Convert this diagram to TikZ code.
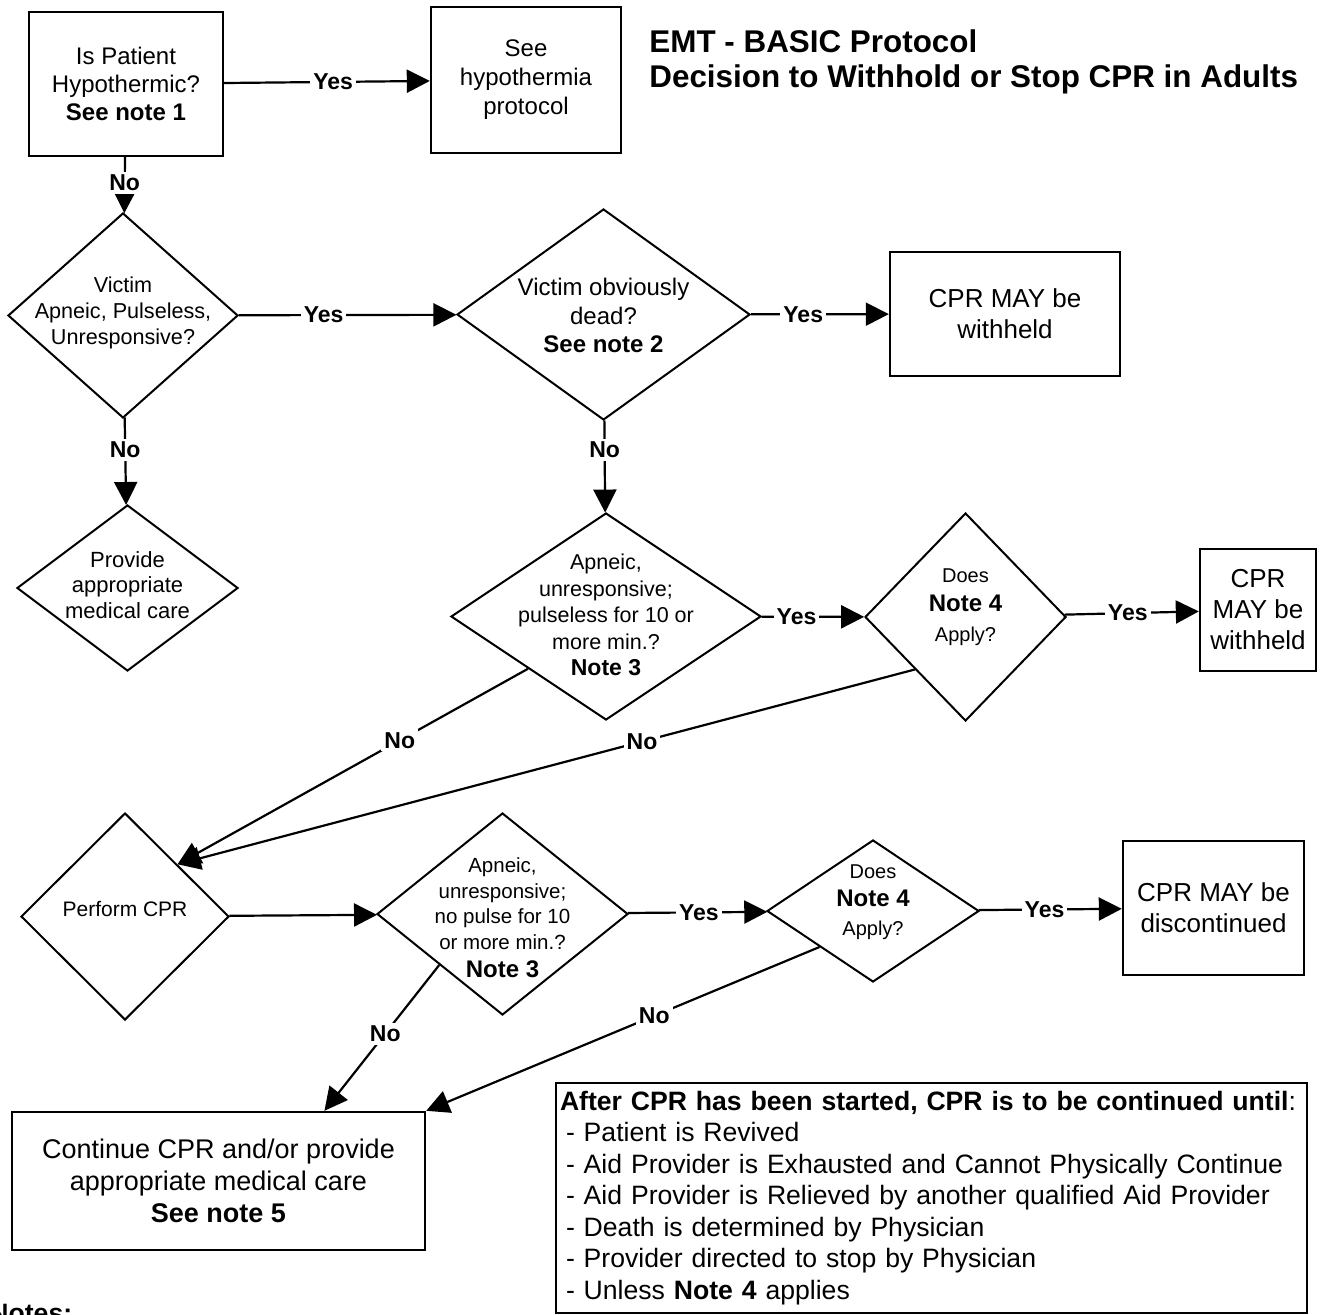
\documentclass[tikz,border=0pt]{standalone}
\usepackage{fontspec}
\setmainfont{Liberation Sans}
\usepackage{tikz}
\usetikzlibrary{shapes.geometric}
\usetikzlibrary{arrows.meta}
\usetikzlibrary{calc}

\tikzset{
  procbox/.style = {draw, line width=1.2pt, align=center, inner sep=0pt},
  decision/.style = {diamond, draw, line width=1pt, inner sep=0pt},
  dtext/.style = {align=center, inner sep=0pt},
  conn/.style = {-{Triangle[length=11.5pt,width=11.5pt]}, line width=1.1pt},
  answer/.style = {fill=white, inner sep=1.5pt, font=\fontsize{11.5pt}{13pt}\selectfont\bfseries}
}

\begin{document}
\begin{tikzpicture}[x=0.5pt, y=-0.5pt]
  \useasboundingbox (0,0) rectangle (1321,1315);
  \clip (0,0) rectangle (1321,1315);

  \node[anchor=west, align=left, inner sep=0pt, font=\fontsize{15.7pt}{17.5pt}\selectfont\bfseries] (title) at (649,62)
    {EMT - BASIC Protocol\\Decision to Withhold or Stop CPR in Adults};

  \node[procbox, minimum width=97pt, minimum height=72pt, font=\fontsize{12pt}{14pt}\selectfont] (hypo) at (126,84)
    {Is Patient\\Hypothermic?\\\textbf{See note 1}};
  \node[procbox, minimum width=95pt, minimum height=73pt, font=\fontsize{12pt}{14.5pt}\selectfont] (hypoprot) at (526,80)
    {See\\hypothermia\\protocol};
  \node[procbox, minimum width=115pt, minimum height=62pt, font=\fontsize{13pt}{15.5pt}\selectfont] (withheld) at (1005,314)
    {CPR MAY be\\withheld};
  \node[procbox, minimum width=58pt, minimum height=61pt, font=\fontsize{13pt}{15.5pt}\selectfont] (withheldB) at (1258,610)
    {CPR\\MAY be\\withheld};
  \node[procbox, minimum width=90.5pt, minimum height=67pt, font=\fontsize{13pt}{15.5pt}\selectfont] (stopped) at (1213.5,908)
    {CPR MAY be\\discontinued};
  \node[procbox, minimum width=206.5pt, minimum height=69pt, font=\fontsize{13.5pt}{16pt}\selectfont] (contin) at (218.5,1181)
    {Continue CPR and/or provide\\appropriate medical care\\\textbf{See note 5}};
  \node[procbox, align=left, text width=371.5pt, inner xsep=2pt, minimum height=115pt, font=\fontsize{13.3pt}{15.75pt}\selectfont] (until) at (931.5,1198)
    {\textbf{After CPR has been started, CPR is to be continued until}:\\
     \hspace*{3pt}- Patient is Revived\\
     \hspace*{3pt}- Aid Provider is Exhausted and Cannot Physically Continue\\
     \hspace*{3pt}- Aid Provider is Relieved by another qualified Aid Provider\\
     \hspace*{3pt}- Death is determined by Physician\\
     \hspace*{3pt}- Provider directed to stop by Physician\\
     \hspace*{3pt}- Unless \textbf{Note 4} applies};

  \node[decision, minimum width=115pt, minimum height=102.5pt,
    label={[dtext, yshift=1.5pt, font=\fontsize{10.8pt}{13pt}\selectfont]center:{Victim\\Apneic, Pulseless,\\Unresponsive?}}] (apneic) at (123,315.5) {};
  \node[decision, minimum width=146.5pt, minimum height=105.5pt,
    label={[dtext, yshift=-0.5pt, font=\fontsize{12pt}{14.25pt}\selectfont]center:{Victim obviously\\dead?\\\textbf{See note 2}}}] (dead) at (603.5,314.5) {};
  \node[decision, minimum width=110.5pt, minimum height=83pt,
    label={[dtext, yshift=1.5pt, font=\fontsize{11pt}{12.75pt}\selectfont]center:{Provide\\appropriate\\medical care}}] (care) at (127.5,588) {};
  \node[decision, minimum width=155pt, minimum height=103.5pt,
    label={[dtext, yshift=0.75pt, font=\fontsize{10.75pt}{13.25pt}\selectfont]center:{Apneic,\\unresponsive;\\pulseless for 10 or\\more min.?\\{\fontsize{11.5pt}{13.25pt}\selectfont\bfseries Note 3}}}] (tenmin) at (606,616.5) {};
  \node[decision, minimum width=100.5pt, minimum height=104pt,
    label={[dtext, yshift=5pt, font=\fontsize{10pt}{14.75pt}\selectfont]center:{Does\\{\fontsize{12pt}{14.75pt}\selectfont\bfseries Note 4}\\Apply?}}] (noteA) at (965.5,617) {};
  \node[decision, minimum width=104pt, minimum height=103.5pt,
    label={[dtext, yshift=4pt, font=\fontsize{10.5pt}{12.5pt}\selectfont]center:{Perform CPR}}] (cpr) at (125,916.5) {};
  \node[decision, minimum width=125.5pt, minimum height=101pt,
    label={[dtext, yshift=-2pt, font=\fontsize{10.25pt}{12.75pt}\selectfont]center:{Apneic,\\unresponsive;\\no pulse for 10\\or more min.?\\[1.5pt]{\fontsize{12pt}{13pt}\selectfont\bfseries Note 3}}}] (nopulse) at (502.5,914) {};
  \node[decision, minimum width=106pt, minimum height=71pt,
    label={[dtext, yshift=4.5pt, font=\fontsize{10pt}{14.25pt}\selectfont]center:{Does\\{\fontsize{12pt}{14.25pt}\selectfont\bfseries Note 4}\\Apply?}}] (noteB) at (873,911) {};

  \node[anchor=base west, inner sep=0pt, font=\fontsize{13.3pt}{15.75pt}\selectfont\bfseries] (notes) at (-11,1322) {Notes:};

  \coordinate (continin) at ($(contin.north west)!0.755!(contin.north east)$);

  \draw[conn] (hypo) -- node[answer, pos=0.53] {Yes} (hypoprot);
  \draw[conn] (hypo) -- node[answer, pos=0.46] {No} (apneic);
  \draw[conn] (apneic) -- node[answer, pos=0.39] {Yes} (dead);
  \draw[conn] (dead) -- node[answer, pos=0.38] {Yes} (withheld);
  \draw[conn] (apneic) -- node[answer, pos=0.37] {No} (care);
  \draw[conn] (dead) -- node[answer, pos=0.32] {No} (tenmin);
  \draw[conn] (tenmin) -- node[answer, pos=0.34] {Yes} (noteA);
  \draw[conn] (noteA) -- node[answer, pos=0.47] {Yes} (withheldB);
  \draw[conn] (tenmin.south west) -- node[answer, pos=0.366] {No} (cpr.north east);
  \draw[conn] (noteA.south west) -- node[answer, pos=0.37] {No} (cpr.north east);
  \draw[conn] (cpr) -- (nopulse);
  \draw[conn] (nopulse) -- node[answer, pos=0.51] {Yes} (noteB);
  \draw[conn] (noteB) -- node[answer, pos=0.46] {Yes} (stopped);
  \draw[conn] (nopulse.south west) -- node[answer, pos=0.47] {No} (continin);
  \draw[conn] (noteB.south west) -- node[answer, pos=0.42] {No} (contin.north east);
\end{tikzpicture}
\end{document}
